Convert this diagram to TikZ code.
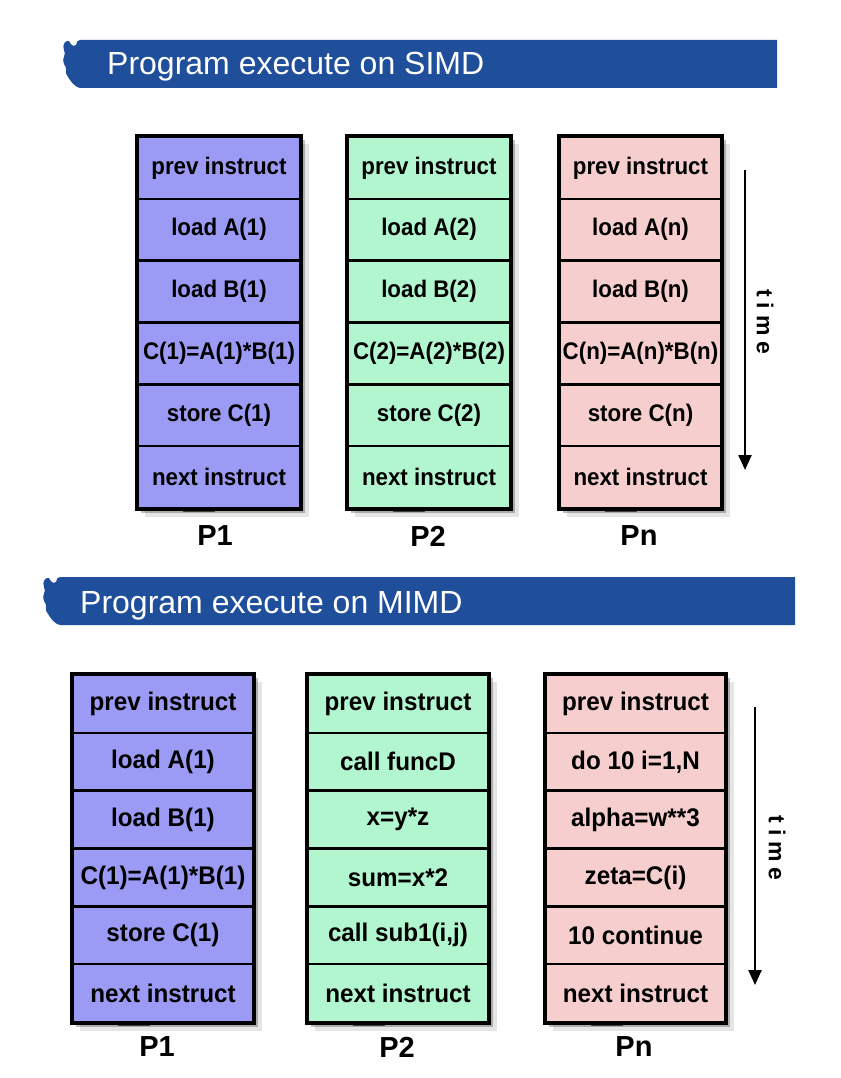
\documentclass[tikz,border=0pt]{standalone}
\usepackage{fontspec}
\setmainfont{Liberation Sans}
\usetikzlibrary{arrows.meta}
\definecolor{procA}{RGB}{155,155,245}
\definecolor{procB}{RGB}{178,246,208}
\definecolor{procC}{RGB}{246,206,206}
\definecolor{bannerblue}{RGB}{31,78,155}
\tikzset{
  cell/.style={draw=black, line width=2.5pt, inner sep=0pt, text=black},
  lbl/.style={font=\bfseries\fontsize{29}{29}\selectfont, inner sep=0pt},
  timelbl/.style={rotate=-90, font=\bfseries\fontsize{23}{23}\selectfont, inner sep=0pt},
  timearrow/.style={line width=2.4pt, -{Triangle[width=13pt,length=15pt]}},
  bannertext/.style={anchor=base west, text=white, inner sep=0pt, font=\fontsize{32}{32}\selectfont}
}
% #1 prefix, #2 left, #3 right, #4 top, #5 row height, #6 fill, #7 list, #8 font size, #9 xscale
\newcommand\procbox[9]{%
  \fill[black,opacity=0.10] ({#2+7},{#4+7}) rectangle ({#3+9},{#4+6*#5+9});
  \fill[black,opacity=0.25] ({#2+3},{#4+3}) rectangle ({#3+5},{#4+6*#5+5});
  \fill[black!75] ({#2+45},{#4+6*#5}) rectangle ({#2+77},{#4+6*#5+4});
  \foreach \t [count=\i] in {#7} {
    \node[cell, fill=#6, minimum width={#3-#2}, minimum height={#5},
          font=\bfseries\fontsize{#8}{#8}\selectfont]
      (#1\i) at ({(#2+#3)/2},{#4+(\i-0.5)*#5}) {\scalebox{#9}[1]{\t}};
  }
  \draw[line width=3pt] (#11.north west) rectangle (#16.south east);
}
% #1 right end
\newcommand\bannershape[1]{%
  (80,40) -- (#1,40) -- (#1,88) -- (80,88)
  .. controls (73,86) and (71,81) .. (68,77)
  .. controls (64,73) and (68,68) .. (64,64)
  .. controls (61,58) and (67,55) .. (64,50)
  .. controls (62,45) and (65,40) .. (69,41)
  .. controls (71,45) and (73,47) .. (76,45)
  .. controls (76,42) and (78,40) .. (80,40) -- cycle
}
\begin{document}
\begin{tikzpicture}[x=1pt,y=-1pt]
\useasboundingbox (0,0) rectangle (840,1078);
\fill[white] (0,0) rectangle (840,1078);

% ---------- SIMD ----------
\fill[bannerblue] \bannershape{777};
\node[bannertext] (t1) at (107,75) {Program execute on SIMD};

\procbox{sa}{138}{300}{137}{61.83}{procA}{prev instruct, load A(1), load B(1), C(1)=A(1)*B(1), store C(1), next instruct}{24}{0.93}
\procbox{sb}{348}{510}{137}{61.83}{procB}{prev instruct, load A(2), load B(2), C(2)=A(2)*B(2), store C(2), next instruct}{24}{0.93}
\procbox{sc}{560}{721}{137}{61.83}{procC}{prev instruct, load A(n), load B(n), C(n)=A(n)*B(n), store C(n), next instruct}{24}{0.93}

\node[lbl] (sl1) at (215,536) {P1};
\node[lbl] (sl2) at (428,536) {P2};
\node[lbl] (sl3) at (639,536) {Pn};

\coordinate (sta) at (745,170);
\coordinate (stb) at (745,470);
\draw[timearrow] (sta) -- (stb);
\node[timelbl] (stime) at (765,322) {t\hspace{6pt}i\hspace{6pt}m\hspace{6pt}e};

% ---------- MIMD ----------
\begin{scope}[shift={(-20,537)}]
  \fill[bannerblue] \bannershape{815};
\end{scope}
\node[bannertext] (t2) at (80,613) {Program execute on MIMD};

\procbox{ma}{73}{253}{675}{57.83}{procA}{prev instruct, load A(1), load B(1), C(1)=A(1)*B(1), store C(1), next instruct}{25.5}{0.95}
\procbox{mb}{308}{488}{675}{57.83}{procB}{prev instruct, call funcD, x=y*z, sum=x*2, {call sub1(i,j)}, next instruct}{25.5}{0.95}
\procbox{mc}{546}{725}{675}{57.83}{procC}{prev instruct, {do 10 i=1,N}, alpha=w**3, zeta=C(i), 10 continue, next instruct}{25.5}{0.95}

\node[lbl] (ml1) at (157,1047) {P1};
\node[lbl] (ml2) at (397,1047) {P2};
\node[lbl] (ml3) at (634,1047) {Pn};

\coordinate (mta) at (755,707);
\coordinate (mtb) at (755,985);
\draw[timearrow] (mta) -- (mtb);
\node[timelbl] (mtime) at (777,848) {t\hspace{6pt}i\hspace{6pt}m\hspace{6pt}e};
\end{tikzpicture}
\end{document}
